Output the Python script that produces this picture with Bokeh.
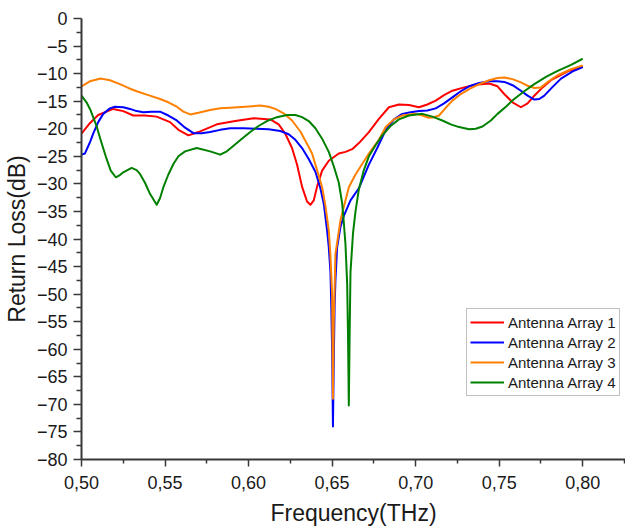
from bokeh.plotting import figure
from bokeh.models import FixedTicker, Legend, LegendItem, Range1d
from bokeh.embed import file_html
from bokeh.resources import INLINE

# ---- data ----
x1 = [0.500, 0.505, 0.510, 0.519, 0.525, 0.531, 0.538, 0.545, 0.553, 0.558, 0.564, 0.570,
      0.581, 0.592, 0.603, 0.613, 0.618, 0.622, 0.626, 0.629, 0.632, 0.635, 0.637, 0.639,
      0.641, 0.644, 0.648, 0.654, 0.658, 0.662, 0.667, 0.672, 0.678, 0.684, 0.690, 0.696,
      0.702, 0.707, 0.712, 0.717, 0.722, 0.729, 0.736, 0.744, 0.749, 0.753, 0.758, 0.763,
      0.767, 0.771, 0.776, 0.781, 0.791, 0.800]
y1 = [-20.9, -19.0, -17.5, -16.4, -16.8, -17.6, -17.6, -17.8, -18.8, -20.2, -21.2, -20.6,
      -19.2, -18.6, -18.1, -18.3, -19.2, -20.9, -23.5, -26.5, -30.5, -33.2, -33.8, -33.0,
      -30.5, -27.6, -25.8, -24.5, -24.2, -23.7, -22.3, -20.6, -18.2, -16.1, -15.6, -15.7,
      -16.1, -15.6, -14.9, -13.9, -13.1, -12.5, -12.0, -11.8, -12.3, -13.7, -15.2, -16.1,
      -15.4, -14.0, -12.5, -11.2, -9.6, -8.7]

x2 = [0.500, 0.502, 0.505, 0.507, 0.510, 0.513, 0.517, 0.520, 0.525, 0.529, 0.533, 0.537,
      0.542, 0.547, 0.552, 0.557, 0.562, 0.567, 0.572, 0.577, 0.583, 0.589, 0.597, 0.605,
      0.612, 0.619, 0.624, 0.628, 0.632, 0.636, 0.640, 0.643, 0.645, 0.647, 0.648, 0.649,
      0.6495, 0.650, 0.6505, 0.651, 0.6515, 0.652, 0.653, 0.655, 0.657, 0.661, 0.666, 0.672,
      0.677, 0.682, 0.687, 0.692, 0.697, 0.702, 0.707, 0.712, 0.717, 0.722, 0.727, 0.732,
      0.738, 0.744, 0.749, 0.753, 0.758, 0.763, 0.767, 0.771, 0.774, 0.777, 0.782, 0.787,
      0.794, 0.800]
y2 = [-24.7, -24.5, -22.5, -20.9, -18.8, -17.3, -16.3, -16.0, -16.1, -16.4, -16.8, -17.0,
      -16.9, -16.9, -17.6, -18.5, -19.8, -20.8, -20.8, -20.6, -20.2, -19.9, -19.9, -20.0,
      -20.1, -20.4, -21.0, -22.0, -23.5, -25.5, -27.8, -30.8, -33.6, -38.5, -41.5, -46.0,
      -52.0, -60.0, -74.0, -62.0, -52.0, -47.5, -41.5, -37.8, -35.8, -33.0, -30.8, -26.5,
      -23.5, -20.3, -18.3, -17.3, -17.0, -16.8, -16.7, -16.3, -15.4, -14.3, -13.2, -12.3,
      -11.7, -11.4, -11.4, -11.5, -12.1, -13.1, -14.0, -14.7, -14.6, -14.0, -12.4, -10.9,
      -9.6, -8.8]

x3 = [0.500, 0.505, 0.5115, 0.517, 0.523, 0.528, 0.533, 0.540, 0.547, 0.552, 0.557, 0.561,
      0.565, 0.570, 0.577, 0.583, 0.589, 0.598, 0.607, 0.612, 0.616, 0.621, 0.626, 0.631,
      0.636, 0.638, 0.642, 0.644, 0.646, 0.648, 0.649, 0.650, 0.6505, 0.651, 0.652, 0.655,
      0.660, 0.664, 0.668, 0.672, 0.678, 0.682, 0.687, 0.692, 0.700, 0.704, 0.708, 0.711,
      0.714, 0.718, 0.722, 0.727, 0.732, 0.738, 0.744, 0.749, 0.753, 0.758, 0.763, 0.767,
      0.771, 0.775, 0.780, 0.785, 0.793, 0.800]
y3 = [-12.3, -11.4, -10.9, -11.2, -11.9, -12.6, -13.2, -13.9, -14.6, -15.2, -16.0, -16.9,
      -17.4, -17.1, -16.6, -16.3, -16.2, -16.0, -15.8, -16.0, -16.4, -17.2, -18.5, -20.5,
      -23.3, -24.5, -28.5, -30.6, -34.0, -38.5, -43.0, -50.0, -69.0, -55.0, -42.7, -36.6,
      -30.6, -28.3, -26.4, -24.5, -22.0, -19.7, -18.3, -17.6, -17.3, -17.6, -18.0, -17.9,
      -17.6, -16.2, -14.9, -13.7, -12.8, -11.9, -11.2, -10.8, -10.7, -11.0, -11.6, -12.2,
      -12.6, -12.5, -11.3, -10.3, -9.2, -8.5]

x4 = [0.500, 0.503, 0.5055, 0.509, 0.5115, 0.5145, 0.5175, 0.5205, 0.523, 0.525, 0.530, 0.533,
      0.535, 0.538, 0.541, 0.545, 0.547, 0.549, 0.552, 0.555, 0.558, 0.562, 0.569, 0.577,
      0.583, 0.587, 0.591, 0.596, 0.601, 0.606, 0.611, 0.617, 0.623, 0.628, 0.632, 0.636,
      0.640, 0.644, 0.648, 0.651, 0.654, 0.656, 0.657, 0.658, 0.659, 0.6595, 0.660, 0.6605,
      0.661, 0.6625, 0.664, 0.666, 0.669, 0.672, 0.676, 0.680, 0.685, 0.690, 0.696, 0.704,
      0.710, 0.716, 0.721, 0.726, 0.732, 0.736, 0.740, 0.745, 0.749, 0.754, 0.759, 0.765,
      0.771, 0.778, 0.785, 0.793, 0.800]
y4 = [-14.0, -15.2, -16.7, -19.5, -22.1, -25.0, -27.6, -28.8, -28.4, -27.9, -27.1, -27.5,
      -28.2, -29.8, -31.8, -33.8, -32.6, -30.6, -28.3, -26.4, -25.0, -24.1, -23.5, -24.1,
      -24.7, -24.1, -23.1, -21.8, -20.6, -19.5, -18.6, -17.9, -17.5, -17.5, -17.9, -18.6,
      -19.9, -21.8, -24.2, -26.8, -29.8, -33.5, -37.0, -41.0, -48.0, -57.0, -70.2, -57.0,
      -46.0, -39.0, -35.0, -31.0, -27.5, -25.0, -23.0, -21.2, -19.5, -18.3, -17.6, -17.3,
      -17.8, -18.5, -19.2, -19.7, -20.1, -20.0, -19.6, -18.5, -17.3, -16.0, -14.6, -13.2,
      -11.9, -10.6, -9.5, -8.4, -7.3]

series_names = ["Antenna Array 1", "Antenna Array 2", "Antenna Array 3", "Antenna Array 4"]
series_colors = ["#FF0000", "#0000FF", "#FF8000", "#008000"]

x_ticks = [0.50, 0.55, 0.60, 0.65, 0.70, 0.75, 0.80]
x_tick_labels = ["0,50", "0,55", "0,60", "0,65", "0,70", "0,75", "0,80"]
x_minor = [0.525, 0.575, 0.625, 0.675, 0.725, 0.775, 0.825]
y_ticks = [-80, -75, -70, -65, -60, -55, -50, -45, -40, -35, -30, -25, -20, -15, -10, -5, 0]
y_minor = [-77.5, -72.5, -67.5, -62.5, -57.5, -52.5, -47.5, -42.5, -37.5, -32.5, -27.5,
           -22.5, -17.5, -12.5, -7.5, -2.5]

FONT = "Liberation Sans"
AX = "#383838"

p = figure(width=625, height=531, output_backend="svg", toolbar_location=None,
           x_range=Range1d(0.50, 0.8256), y_range=Range1d(-80, 0),
           min_border_left=78, min_border_right=0, min_border_top=18, min_border_bottom=72)
p.outline_line_color = None
p.grid.visible = False
p.background_fill_color = "white"
p.border_fill_color = "white"

items = []
for xs, ys, name, col in zip([x1, x2, x3, x4], [y1, y2, y3, y4], series_names, series_colors):
    r = p.line(xs, ys, line_color=col, line_width=2, line_join="round")
    items.append(LegendItem(label=name, renderers=[r]))

for ax in (p.xaxis[0], p.yaxis[0]):
    ax.axis_line_color = AX
    ax.axis_line_width = 2
    ax.major_tick_line_color = AX
    ax.minor_tick_line_color = AX
    ax.major_tick_line_width = 1.5
    ax.minor_tick_line_width = 1.5
    ax.major_tick_in = 0
    ax.minor_tick_in = 0
    ax.major_label_text_font = FONT
    ax.major_label_text_font_size = "18px"
    ax.major_label_text_color = "#1a1a1a"
    ax.axis_label_text_font = FONT
    ax.axis_label_text_font_size = "23px"
    ax.axis_label_text_font_style = "normal"
    ax.axis_label_text_color = "#1a1a1a"

xa = p.xaxis[0]
xa.ticker = FixedTicker(ticks=x_ticks, minor_ticks=x_minor)
xa.major_label_overrides = {t: l for t, l in zip(x_ticks, x_tick_labels)}
xa.major_tick_out = 7
xa.minor_tick_out = 4
xa.major_label_standoff = 9
xa.axis_label = "Frequency(THz)"
xa.axis_label_standoff = 8

ya = p.yaxis[0]
ya.ticker = FixedTicker(ticks=y_ticks, minor_ticks=y_minor)
ya.major_tick_out = 8
ya.minor_tick_out = 5
ya.major_label_standoff = 6
ya.axis_label = "Return Loss(dB)"
ya.axis_label_standoff = 4

legend = Legend(items=items, location=(385, 63), orientation="vertical",
                label_text_font=FONT, label_text_font_size="15px", label_text_color="#1a1a1a",
                glyph_width=34, glyph_height=20, label_height=20, label_standoff=4,
                spacing=0, padding=3, margin=0,
                border_line_color="#808080", border_line_width=1,
                background_fill_color="white", background_fill_alpha=1.0)
p.add_layout(legend, "center")

open("out.html", "w").write(file_html(p, INLINE))
